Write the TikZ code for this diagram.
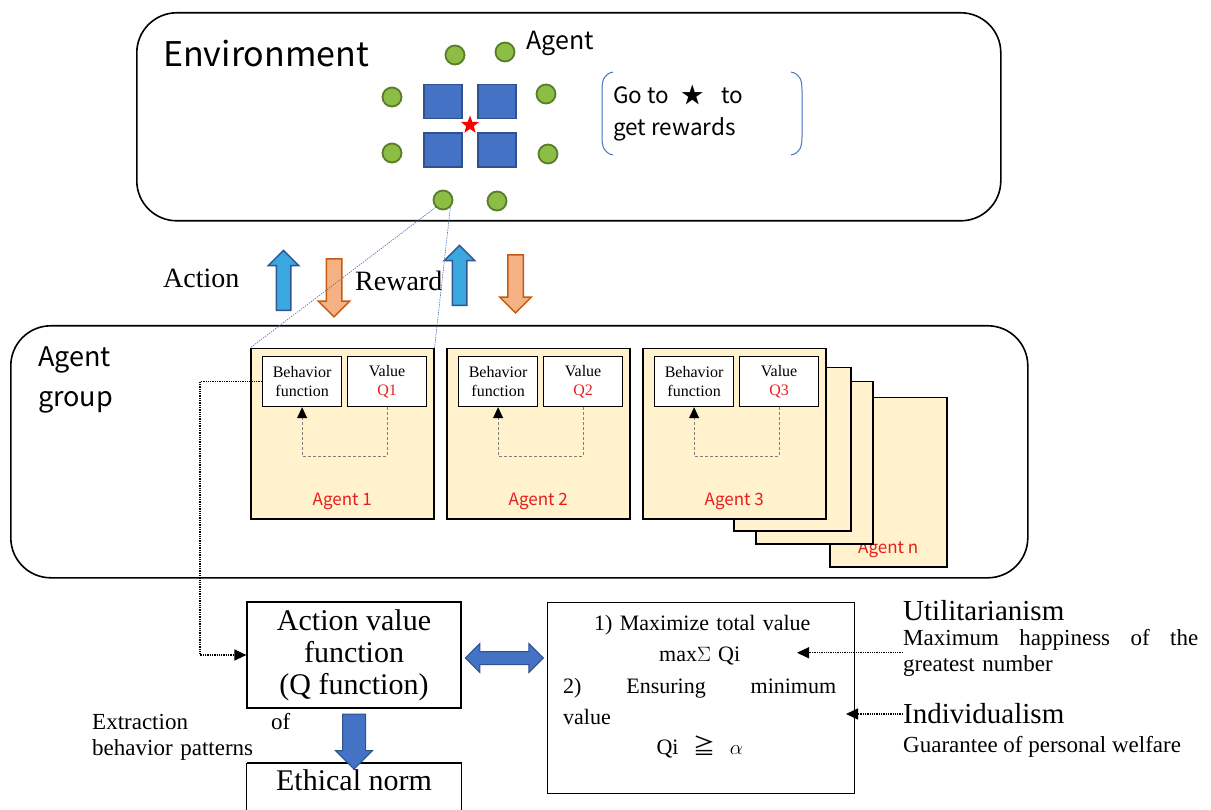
\documentclass[tikz,border=0pt]{standalone}
\usepackage{fontspec}
\setmainfont{Liberation Serif}
\newfontfamily\gothic{Noto Sans CJK JP}
\usetikzlibrary{positioning,calc,shapes.geometric,shapes.arrows,arrows.meta}

\definecolor{dotfill}{RGB}{140,189,69}
\definecolor{dotline}{RGB}{90,125,40}
\definecolor{blockfill}{RGB}{68,114,196}
\definecolor{blockline}{RGB}{47,82,143}
\definecolor{upfill}{RGB}{58,168,222}
\definecolor{upline}{RGB}{47,85,151}
\definecolor{downfill}{RGB}{244,177,131}
\definecolor{downline}{RGB}{197,90,17}
\definecolor{cardfill}{RGB}{255,242,204}
\definecolor{agentred}{RGB}{230,30,30}

\begin{document}
\begin{tikzpicture}[x=1pt,y=-1pt,
    envbox/.style={draw, line width=1.6pt, rounded corners=40pt, anchor=north west, inner sep=0pt},
    agentdot/.style={circle, draw=dotline, fill=dotfill, line width=1.8pt, minimum size=19pt, inner sep=0pt},
    block/.style={rectangle, draw=blockline, fill=blockfill, line width=1.2pt, minimum width=38pt, minimum height=34pt, inner sep=0pt},
    card/.style={draw, line width=1.5pt, fill=cardfill, anchor=north west, inner sep=0pt},
    fbox/.style={draw, line width=1.2pt, fill=white, minimum width=79pt, minimum height=50pt, anchor=north west, inner sep=1pt, align=center, font=\fontsize{16}{19}\selectfont},
    fbline/.style={densely dashed, gray, line width=0.8pt, -{Triangle[length=11pt,width=10pt,color=black]}},
    agentlbl/.style={text=agentred, font=\gothic\fontsize{17}{20}\selectfont},
    uparrow/.style={single arrow, rotate=90, draw=upline, fill=upfill, line width=1.5pt, inner xsep=0pt, inner ysep=6.5pt, single arrow head extend=8pt, minimum height=60pt},
    downarrow/.style={single arrow, rotate=-90, draw=downline, fill=downfill, line width=1.5pt, inner xsep=0pt, inner ysep=7pt, single arrow head extend=8pt, minimum height=58pt},
    zoomline/.style={blockfill, line width=0.6pt, dash pattern=on 1.5pt off 1pt},
    dotarrow/.style={densely dotted, line width=1.3pt, -{Triangle[length=12pt,width=11pt]}},
    mainbox/.style={draw, line width=1.2pt, minimum width=214pt, inner sep=2pt, align=center, font=\fontsize{30}{32}\selectfont},
    bigserif/.style={inner sep=0pt, anchor=west, font=\fontsize{29}{32}\selectfont},
    smallserif/.style={inner sep=0pt, font=\fontsize{23}{26}\selectfont}]
\useasboundingbox (0,0) rectangle (1211,810);

% Environment
\node[envbox, minimum width=864pt, minimum height=208pt] (env) at (136,12) {};
\node[anchor=west, inner sep=0pt, font=\gothic\fontsize{34}{40}\selectfont] (envlbl) at (163,54) {Environment};
\foreach \x/\y [count=\k] in {455/55,505/52,392/97,546/94,392/153,548/154,443/200,497/201}
    \node[agentdot] (dot\k) at (\x,\y) {};
\foreach \x/\y [count=\k] in {443/101.5,497/101.5,443/150,497/150}
    \node[block] (blk\k) at (\x,\y) {};
\node[star, star points=5, star point ratio=2.4, fill=red, minimum size=19pt, inner sep=0pt] (goalstar) at (470,125) {};
\node[anchor=west, inner sep=0pt, font=\gothic\fontsize{25}{28}\selectfont] (agentlbl) at (526,43) {Agent};
\node[anchor=west, inner sep=0pt, align=left, font=\gothic\fontsize{22.5}{32}\selectfont] (goal) at (613,113) {Go to\hspace{12pt}★\hspace{18pt}to\\get rewards};

% brackets round the goal
\draw[blockfill, line width=1pt] (613,72) .. controls (604,74) and (602,80) .. (602,90) -- (602,137) .. controls (602,147) and (604,153) .. (613,155);
\draw[blockfill, line width=1pt] (791,72) .. controls (800,74) and (802,80) .. (802,90) -- (802,137) .. controls (802,147) and (800,153) .. (791,155);

% Action / Reward
\node[anchor=west, inner sep=0pt, font=\fontsize{28}{32}\selectfont] (actlbl) at (163,278) {Action};
\node[anchor=west, inner sep=0pt, font=\fontsize{28}{32}\selectfont] (rewlbl) at (355,281) {Reward};

% Agent group
\node[envbox, minimum width=1017pt, minimum height=252pt] (group) at (10,325) {};
\node[anchor=west, inner sep=0pt, align=left, font=\gothic\fontsize{27}{40}\selectfont] (grouplbl) at (38,380) {Agent\\group};

% stacked cards
\node[card, minimum width=117pt, minimum height=169pt] (cardn) at (829,397) {};
\node[agentlbl] at ($(cardn.south)+(0,-18)$) {Agent n};
\node[card, minimum width=117pt, minimum height=162pt] (cardb2) at (755,381) {};
\node[card, minimum width=117pt, minimum height=163pt] (cardb1) at (733,367) {};

\foreach \i/\x in {1/250,2/446,3/642}{
    \node[card, minimum width=183pt, minimum height=170pt] (card\i) at (\x,348) {};
    \node[fbox] (beh\i) at ($(card\i.north west)+(12,8)$) {Behavior\\function};
    \node[fbox] (val\i) at ($(card\i.north west)+(97,8)$) {Value\\\textcolor{agentred}{Q\i}};
    \draw[fbline] (val\i.south) -- ++(0,49) -| (beh\i.south);
    \node[agentlbl] at ($(card\i.south)+(0,-18)$) {Agent \i};
}

% block arrows
\node[uparrow] (up1) at (283.5,284) {};
\node[downarrow] (down1) at (334,284) {};
\node[uparrow] (up2) at (459.5,279) {};
\node[downarrow] (down2) at (515.5,280) {};

% zoom lines from the agent
\draw[zoomline] (dot7.south west) -- (card1.north west);
\draw[zoomline] (dot7.south east) -- (card1.north east);

% Q function and norm
\node[mainbox, minimum height=106pt] (qfun) at (354,655) {Action value\\function\\(Q function)};
\node[inner sep=0pt, anchor=north, minimum width=214pt, font=\fontsize{30}{32}\selectfont] (norm) at (354,769) {Ethical norm};
\draw[line width=1.2pt] ($(norm.north west)+(0,-6)$) -- ++(0,60) ($(norm.north west)+(0,-6)$) -- ($(norm.north east)+(0,-6)$) -- ++(0,60);
\node[single arrow, rotate=-90, draw=blockline, fill=blockfill, line width=1pt, inner xsep=0pt, inner ysep=11pt, single arrow head extend=7pt, minimum height=55pt] (qarrow) at ($(qfun.south)!0.5!(norm.north)+(0,-3)$) {};
\draw[dotarrow] (beh1.west) -- ++(-62,0) |- (qfun.west);
\node[smallserif, anchor=north west, text width=198pt, align=left] (extract) at (92,713) {Extraction\hfill of\\behavior patterns};

% rules
\node[draw, line width=1.2pt, anchor=north west, minimum width=307pt, minimum height=191pt, inner sep=0pt] (rule) at (547,602) {};
\node[inner sep=0pt, anchor=north west, text width=273pt, align=left, font=\fontsize{22}{31.5}\selectfont] (ruletxt) at (563,615)
    {\hspace*{31pt}1) Maximize total value\\
     \makebox[\hsize][c]{max$\Sigma$ Qi}\\
     2)\hfill Ensuring\hfill minimum\\
     value\\[-2pt]
     \makebox[\hsize][c]{Qi \ {\gothic ≧}\ \ $\alpha$}};
\node[double arrow, draw=blockline, fill=blockfill, line width=1pt, inner xsep=0pt, inner ysep=6pt, double arrow head extend=8pt, minimum height=78pt] (qrule) at ($(qfun.east)!0.5!(qfun.east -| rule.west)+(0,3)$) {};

% ethics
\node[bigserif] (util) at (903,611) {Utilitarianism};
\node[smallserif, anchor=north west, text width=295pt, align=left] (utiltxt) at (903,629) {Maximum\hfill happiness\hfill of\hfill the\\greatest number};
\node[bigserif] (indiv) at (903,714) {Individualism};
\node[smallserif, anchor=west] (guar) at (903,747) {Guarantee of personal welfare};
\coordinate (maxq) at (797,651);
\coordinate (minq) at (846,716);
\draw[dotarrow] (utiltxt.west) -- (maxq |- utiltxt.west);
\draw[dotarrow] (indiv.west) -- (minq |- indiv.west);
\end{tikzpicture}
\end{document}
